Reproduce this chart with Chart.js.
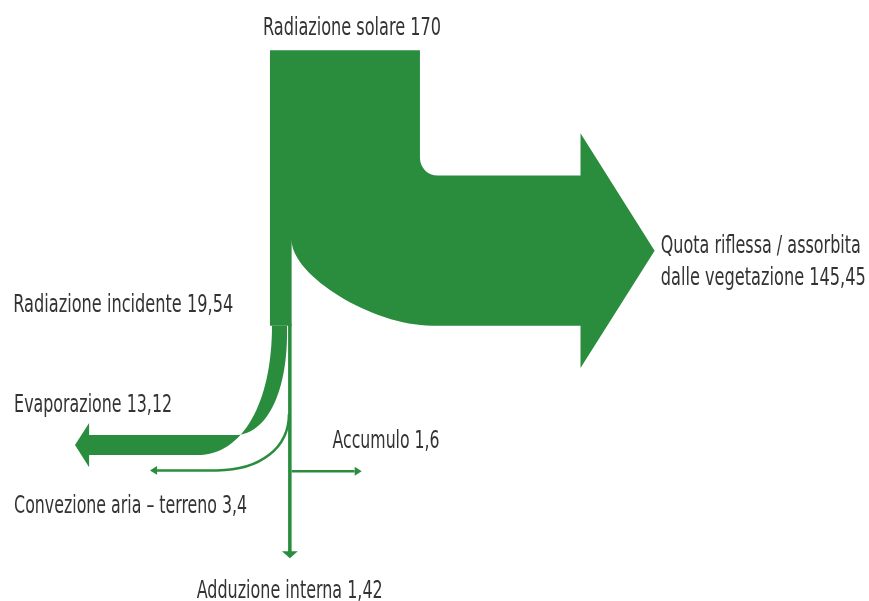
<!DOCTYPE html>
<html>
<head>
<meta charset="utf-8">
<script src="https://cdn.jsdelivr.net/npm/chart.js@4.4.1/dist/chart.umd.min.js"></script>
<style>
  html, body { margin: 0; padding: 0; background: #fff; }
  #wrap { width: 869px; height: 601px; }
</style>
</head>
<body>
<div id="wrap"><canvas id="sankeyChart"></canvas></div>
<script>
// flows
const flowNames = ['Radiazione solare', 'Quota riflessa / assorbita', 'Radiazione incidente',
                   'Evaporazione', 'Convezione aria – terreno', 'Accumulo', 'Adduzione interna'];
const flowValues = [170, 145.45, 19.54, 13.12, 3.4, 1.6, 1.42];
const secondLine = ['', 'dalle vegetazione', '', '', '', '', ''];

const green = '#2a8d3e';
const textColor = '#333333';

function fmt(v) { return String(v).replace('.', ','); }

const sankeyPlugin = {
  id: 'sankeyFlows',
  afterDatasetsDraw(chart) {
    const ctx = chart.ctx;
    const sx = chart.scales.x, sy = chart.scales.y;
    const X = u => sx.getPixelForValue(u);
    const Y = v => sy.getPixelForValue(v);
    const M = (u, v) => ctx.moveTo(X(u), Y(v));
    const L = (u, v) => ctx.lineTo(X(u), Y(v));
    const C = (a, b, c, d, e, f) => ctx.bezierCurveTo(X(a), Y(b), X(c), Y(d), X(e), Y(f));

    const total = flowValues[0];
    const right = flowValues[1];
    const split = total - right;          // left strip width
    ctx.save();
    ctx.fillStyle = green;
    ctx.strokeStyle = green;

    // main flow: source band, bend to the right, big arrow, left strip
    const bodyTop = 142, bodyBot = bodyTop + total, bodyEnd = 352;
    const headOut = 48, tip = 436, r = 20;
    const splitY = 215, curveEndX = 183.6, cc = 0.42;
    ctx.beginPath();
    M(0, 0);
    L(total, 0);
    L(total, bodyTop - r);
    C(total, bodyTop - r * 0.45, total + r * 0.45, bodyTop, total + r, bodyTop);
    L(bodyEnd, bodyTop);
    L(bodyEnd, bodyTop - headOut);
    L(tip, (bodyTop + bodyBot) / 2);
    L(bodyEnd, bodyBot + headOut);
    L(bodyEnd, bodyBot);
    L(curveEndX, bodyBot);
    C(curveEndX - (curveEndX - split) * cc, bodyBot, split, splitY + (bodyBot - splitY) * cc, split, splitY);
    L(split, bodyBot);
    L(0, bodyBot);
    ctx.closePath();
    ctx.fill();

    // evaporation band curving left
    const eL = 2.3, eR = eL + flowValues[3] * 1.3;
    const eTop = 436, eBot = 458.7, eHead = 205, eTip = 221, eHalf = 25;
    const oEnd = -82, iEnd = -40, iStart = 320, oc = 0.6, ic = 0.6;
    ctx.beginPath();
    M(eL, bodyBot);
    C(eL, bodyBot + (eBot - bodyBot) * oc, oEnd + (eL - oEnd) * oc, eBot, oEnd, eBot);
    L(-eHead, eBot);
    L(-eHead, (eTop + eBot) / 2 + eHalf);
    L(-eTip, (eTop + eBot) / 2);
    L(-eHead, (eTop + eBot) / 2 - eHalf);
    L(-eHead, eTop);
    L(iEnd, eTop);
    C(iEnd + (eR - iEnd) * ic, eTop, eR, iStart + (eTop - iStart) * ic, eR, iStart);
    L(eR, bodyBot);
    ctx.closePath();
    ctx.fill();

    // stem = adduzione interna, down to its arrow
    const stemR = split, stemL = split - 4, stemEnd = 567.5, stemMid = (stemL + stemR) / 2;
    ctx.beginPath();
    M(stemL, bodyBot - 2);
    L(stemR, bodyBot - 2);
    L(stemR, stemEnd);
    L(stemMid + 9, stemEnd);
    L(stemMid, stemEnd + 8);
    L(stemMid - 9, stemEnd);
    L(stemL, stemEnd);
    ctx.closePath();
    ctx.fill();

    // convezione: thin curve to the left
    ctx.lineWidth = 2.5;
    const cy = 476;
    ctx.beginPath();
    M(stemL + 1, 412);
    C(stemL + 1, 412 + (cy - 412) * 0.6, -60 + (stemL + 61) * 0.6, cy, -60, cy);
    L(-128, cy);
    ctx.stroke();
    ctx.beginPath();
    M(-128, cy - 5);
    L(-136, cy);
    L(-128, cy + 5);
    ctx.closePath();
    ctx.fill();

    // accumulo: thin line to the right
    const ay = 477;
    ctx.beginPath();
    M(stemR, ay);
    L(96, ay);
    ctx.stroke();
    ctx.beginPath();
    M(96, ay - 5);
    L(104, ay);
    L(96, ay + 5);
    ctx.closePath();
    ctx.fill();

    // labels
    ctx.fillStyle = textColor;
    ctx.font = '24px "Liberation Sans Narrow", "DejaVu Sans Condensed", "Liberation Sans", sans-serif';
    ctx.textBaseline = 'alphabetic';
    const label = (txt, u, v, align, w) => {
      ctx.textAlign = align;
      ctx.fillText(txt, X(u), Y(v), w);
    };
    label(flowNames[0] + ' ' + fmt(flowValues[0]), 93, -17.3, 'center', 178);
    label(flowNames[1], 443, 229.8, 'left', 200);
    label(secondLine[1] + ' ' + fmt(flowValues[1]), 443, 266, 'left', 205);
    label(flowNames[2] + ' ' + fmt(flowValues[2]), -291, 296.6, 'left', 220);
    label(flowNames[3] + ' ' + fmt(flowValues[3]), -290, 410, 'left', 158);
    label(flowNames[5] + ' ' + fmt(flowValues[5]), 71, 451, 'left', 107);
    label(flowNames[4] + ' ' + fmt(flowValues[4]), -290, 524, 'left', 233);
    label(flowNames[6] + ' ' + fmt(flowValues[6]), -83, 621, 'left', 186);
    ctx.restore();
  }
};

new Chart(document.getElementById('sankeyChart'), {
  type: 'scatter',
  data: { datasets: [{ data: [], pointRadius: 0 }] },
  options: {
    responsive: true,
    maintainAspectRatio: false,
    animation: false,
    layout: { padding: 0 },
    plugins: { legend: { display: false }, tooltip: { enabled: false } },
    scales: {
      x: { type: 'linear', min: -306, max: 679, display: false },
      y: { type: 'linear', min: -57, max: 624, reverse: true, display: false }
    }
  },
  plugins: [sankeyPlugin]
});
</script>
</body>
</html>
